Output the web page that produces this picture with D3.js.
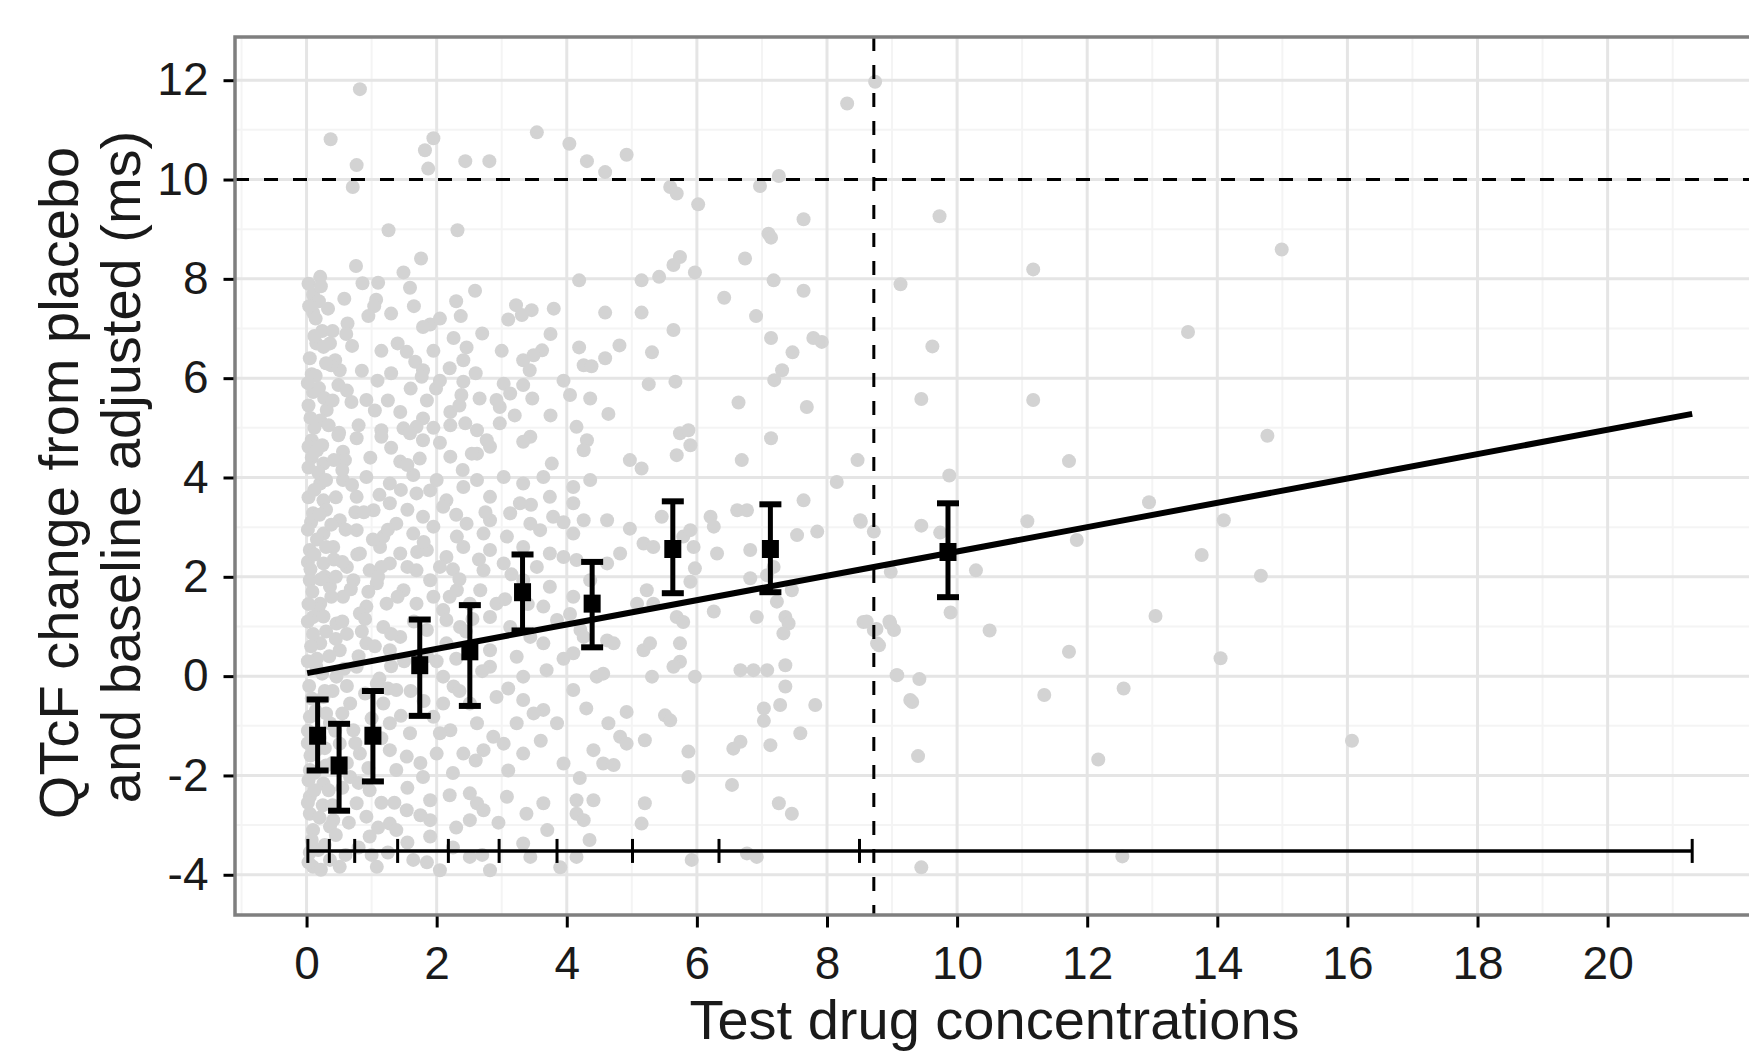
<!DOCTYPE html>
<html>
<head>
<meta charset="utf-8">
<title>QTcF change vs test drug concentration</title>
<script src="https://d3js.org/d3.v7.min.js"></script>
<style>
body { margin: 0; background: #fff; }
svg text { font-family: "Liberation Sans", Arial, sans-serif; fill: #1a1a1a; }
</style>
</head>
<body>
<div id="chart"></div>
<script>
  // observed QTcF changes, [concentration, ms]
  var obsPoints = [
    [0.82,11.82],[0.37,10.81],[0.77,10.29],[0.71,9.85],[1.82,10.59],[1.95,10.83],[1.87,10.22],[2.44,10.37],[2.81,10.37],[3.54,10.95],
    [4.04,10.72],[4.31,10.37],[1.26,8.98],[2.32,8.98],[0.76,8.26],[1.76,8.41],[0.21,8.04],[1.49,8.13],[1.59,7.82],[0.86,7.91],
    [1.10,7.92],[1.07,7.58],[1.04,7.45],[0.10,7.68],[0.10,7.32],[2.59,7.76],[2.37,7.25],[3.22,7.47],[3.46,7.37],[3.10,7.18],
    [3.31,7.27],[4.19,7.97],[0.63,7.10],[0.61,6.89],[1.90,7.08],[1.79,7.03],[2.26,6.81],[2.46,6.62],[2.41,6.36],[3.75,6.89],
    [3.62,6.56],[3.49,6.46],[3.33,6.36],[3.43,6.16],[4.19,6.62],[4.26,6.26],[4.38,6.24],[0.15,6.70],[0.36,6.70],[0.26,6.63],
    [1.54,6.53],[1.67,6.33],[1.79,6.16],[1.77,6.03],[0.44,6.36],[0.51,6.16],[0.38,6.26],[0.08,6.08],[1.09,5.95],[0.49,5.86],
    [1.60,5.79],[1.99,5.79],[2.41,5.93],[2.38,5.66],[2.66,5.59],[3.03,5.89],[3.13,5.69],[2.97,5.42],[2.92,5.56],[3.33,5.86],
    [3.47,5.59],[4.05,5.66],[4.36,5.59],[0.10,5.72],[0.69,5.52],[0.92,5.56],[0.31,5.36],[0.21,5.15],[1.44,5.32],[1.79,5.19],
    [1.69,5.02],[1.49,4.99],[1.59,4.89],[2.21,5.32],[2.21,5.05],[2.44,5.09],[2.62,4.95],[2.77,4.75],[2.82,4.62],[2.62,4.48],
    [2.97,5.09],[3.44,4.82],[3.33,4.72],[4.15,5.02],[4.31,4.75],[4.26,4.55],[0.08,4.75],[0.03,4.62],[0.49,4.85],[0.77,4.79],
    [1.15,4.95],[1.15,4.82],[1.79,4.75],[0.56,4.52],[0.59,4.35],[0.26,4.28],[1.44,4.32],[1.74,4.38],[2.21,4.42],[2.54,4.48],
    [3.77,4.28],
    [8.74,11.97],[8.31,11.53],[4.92,10.50],[4.59,10.15],[7.26,10.07],[6.97,9.87],[5.59,9.85],[5.69,9.72],[6.02,9.50],[7.64,9.20],
    [7.10,8.91],[7.14,8.83],[6.74,8.41],[5.74,8.44],[5.64,8.28],[5.97,8.13],[5.15,7.97],[5.42,8.04],[7.18,7.97],[6.42,7.62],
    [7.64,7.76],[9.13,7.89],[4.59,7.32],[5.15,7.32],[6.91,7.25],[5.64,6.97],[7.14,6.81],[7.79,6.81],[7.92,6.73],[4.81,6.66],
    [5.31,6.52],[7.47,6.52],[4.59,6.40],[7.31,6.16],[7.19,5.96],[5.26,5.88],[5.67,5.93],[6.64,5.51],[7.69,5.42],[4.64,5.28],
    [5.74,4.89],[5.87,4.95],[5.90,4.65],[5.69,4.45],[7.14,4.79],[4.97,4.35],[6.69,4.35],[8.47,4.35],[5.15,4.18],
    [0.21,3.88],[0.56,3.95],[0.92,4.01],[1.28,3.88],[1.64,4.05],[1.90,3.74],[2.41,3.81],[2.62,3.95],[3.03,4.01],[3.33,3.88],
    [3.64,4.01],[4.10,3.81],[4.36,3.95],[0.26,3.54],[0.77,3.61],[1.28,3.48],[1.69,3.68],[2.15,3.54],[2.82,3.61],[3.28,3.48],
    [3.74,3.61],[4.10,3.48],[0.10,3.28],[0.51,3.14],[1.03,3.34],[1.38,3.07],[1.79,3.21],[2.10,3.41],[2.46,3.07],[2.82,3.14],
    [3.13,3.28],[3.44,3.07],[3.79,3.21],[4.26,3.14],[0.26,2.87],[0.77,2.94],[1.18,2.81],[1.64,2.87],[1.95,3.01],[2.31,2.81],
    [2.72,2.87],[3.08,2.81],[3.59,2.94],[4.10,2.87],[0.05,2.54],[0.41,2.60],[0.82,2.47],[1.13,2.60],[1.44,2.47],[1.85,2.54],
    [2.15,2.40],[2.41,2.60],[2.82,2.54],[3.33,2.60],[3.74,2.47],[4.15,2.34],[0.26,2.27],[0.62,2.20],[0.97,2.13],[1.28,2.27],
    [1.69,2.13],[2.05,2.20],[2.72,2.13],[3.03,2.27],[3.54,2.20],[0.05,1.93],[0.36,1.80],[0.72,1.93],[1.08,1.87],[1.49,1.73],
    [1.90,1.93],[2.31,1.73],[2.67,1.73],[2.92,1.46],[3.33,1.93],[3.74,1.80],[4.10,1.60],[0.21,1.46],[0.56,1.60],[0.92,1.40],
    [1.23,1.46],[1.69,1.46],[2.10,1.33],[2.51,1.46],[3.64,1.40],[4.36,1.93],[0.10,1.19],[0.46,1.06],[0.82,1.26],[1.18,0.99],
    [1.44,0.79],[1.85,0.93],[2.15,1.13],[2.36,0.99],[2.82,1.19],[3.13,0.99],[3.44,0.79],[3.85,1.13],[4.21,0.93],[0.21,0.66],
    [0.51,0.52],[0.92,0.66],[1.28,0.52],[2.15,0.66],[2.82,0.52],[3.23,0.39],[3.64,0.66],[4.10,0.46],[4.26,0.79],[0.15,0.19],
    [0.46,-0.01],[0.77,0.19],[1.08,-0.15],[1.38,-0.28],[2.10,-0.01],[2.26,-0.21],[2.82,0.19],[2.92,-0.42],[3.33,-0.01],[3.69,0.12],
    [4.10,-0.28],[4.46,-0.01],[0.26,-0.42],[0.67,-0.55],[1.18,-0.55],[2.10,-0.55],[2.51,-0.55],[3.33,-0.48],[3.64,-0.68],[0.05,-0.82],
    [0.36,-0.95],[0.72,-1.09],[1.28,-0.95],[1.59,-1.15],[1.95,-0.82],[2.21,-1.09],[2.62,-0.95],[2.87,-1.22],[3.23,-0.95],[3.49,-0.75],
    [3.85,-0.95],[4.41,-1.49],[0.15,-1.49],[0.51,-1.36],[0.82,-1.56],[1.28,-1.49],[1.54,-1.62],[2.00,-1.56],[2.41,-1.56],[2.72,-1.49],
    [3.03,-1.36],[3.33,-1.56],[3.95,-1.76],[0.05,-1.89],[0.26,-2.16],[0.67,-2.03],[0.97,-2.30],[1.38,-1.89],[1.79,-2.03],[2.51,-2.36],
    [2.62,-2.56],[3.08,-2.43],[3.64,-2.56],[4.15,-2.50],[4.41,-2.50],[0.05,-2.43],[0.77,-2.56],[1.90,-2.50],[0.05,-2.77],[0.41,-2.90],
    [0.92,-2.83],[1.28,-2.97],[1.54,-2.70],[1.90,-2.90],[2.51,-2.90],[2.72,-2.70],[3.38,-2.77],[4.15,-2.77],[4.26,-2.90],[0.10,-3.10],
    [0.36,-3.03],[0.97,-3.23],[1.38,-3.10],[1.64,-3.70],[1.90,-3.23],[2.51,-3.64],[3.33,-3.37],[3.44,-3.64],[4.15,-3.64],[0.10,-3.84],
    [0.51,-3.84],[1.08,-3.84],[2.05,-3.91],[2.82,-3.91],
    [0.03,-3.75],[0.18,-3.50],[0.08,-3.30],[0.25,-2.60],[0.12,-2.30],[0.03,-2.10],[0.30,-1.80],[0.06,-1.60],[0.20,-1.25],[0.02,-1.10],
    [0.14,-0.70],[0.28,-0.30],[0.04,-0.20],[0.16,0.35],[0.07,0.60],[0.30,0.90],[0.02,1.10],[0.18,1.35],[0.09,1.70],[0.28,2.00],
    [0.02,2.30],[0.16,2.75],[0.07,3.10],[0.30,3.35],[0.03,3.60],[0.18,4.10],[0.08,4.40],[0.24,4.65],[0.12,5.00],[0.03,5.45],
    [0.19,5.80],[0.05,6.40],[0.24,6.95],[0.14,7.20],[0.03,7.90],[0.19,7.55],[0.45,2.00],[0.55,1.10],[0.62,-0.20],[0.40,-2.60],
    [0.75,3.30],[0.85,0.90],[0.50,4.90],[0.95,1.70],[1.15,2.20],[1.30,0.20],[1.60,-0.30],[1.70,2.50],[2.00,0.30],[2.20,1.60],
    [0.04,7.45],[0.22,7.85],[0.33,7.40],[0.12,6.85],[0.40,6.95],[0.30,6.30],[0.14,6.05],[0.02,5.90],[0.27,5.60],[0.40,5.55],
    [0.06,5.20],[0.34,5.05],[0.16,4.55],[0.42,4.35],[0.03,4.20],[0.30,3.95],[0.12,3.75],[0.45,3.60],[0.20,3.25],[0.38,3.05],
    [0.02,2.95],[0.30,2.60],[0.12,2.45],[0.42,2.35],[0.06,2.15],[0.22,1.95],[0.38,1.60],[0.03,1.45],[0.26,1.20],[0.45,0.75],
    [0.10,0.85],[0.35,0.40],[0.02,0.30],[0.24,0.05],[0.40,-0.30],[0.08,-0.45],[0.30,-0.75],[0.44,-1.10],[0.02,-1.35],[0.28,-1.45],
    [0.40,-1.75],[0.12,-1.95],[0.34,-2.30],[0.02,-2.55],[0.20,-2.85],[0.45,-3.20],[0.28,-3.40],[0.05,-3.55],[0.36,-3.70],[0.22,-3.90],
    [0.58,7.60],[0.95,7.25],[0.70,6.65],[1.15,6.55],[0.85,6.15],[0.62,5.75],[1.05,5.35],[0.80,5.05],[0.55,4.15],[0.98,4.40],
    [0.70,3.85],[1.12,3.65],[0.88,3.30],[0.60,2.95],[1.02,2.75],[0.78,2.45],[0.55,2.30],[1.10,2.00],[0.68,1.75],[0.90,1.15],
    [0.62,0.85],[1.05,0.60],[0.80,0.40],[0.58,0.15],[1.12,-0.05],[0.90,-0.35],[0.55,-0.75],[1.00,-0.85],[0.75,-1.35],[1.15,-1.25],
    [0.62,-1.75],[0.95,-1.85],[0.55,-2.25],[0.80,-2.15],[1.15,-2.55],[0.65,-2.95],[1.10,-3.05],[0.80,-3.45],[0.60,-3.60],[1.00,-3.60],
    [1.30,7.30],[1.65,7.45],[2.05,7.20],[2.30,7.55],[1.40,6.70],[1.95,6.55],[2.20,6.20],[1.30,6.10],[2.05,5.95],[1.85,5.55],
    [1.25,5.55],[2.35,5.45],[1.95,5.00],[1.30,4.60],[2.05,4.70],[1.55,4.25],[2.40,4.15],[1.45,3.75],[2.00,3.95],[2.30,3.25],
    [1.55,3.35],[1.25,2.95],[1.80,2.70],[2.25,2.15],[1.55,2.20],[1.40,1.60],[1.95,1.60],[2.35,1.95],[1.65,1.10],[2.45,0.90],
    [1.30,0.85],[1.85,0.40],[2.30,0.35],[1.50,0.30],[1.25,-0.25],[1.80,-0.50],[2.35,-0.30],[1.45,-0.80],[2.05,-1.15],[1.75,-1.75],
    [2.25,-1.95],[1.55,-2.25],[2.20,-2.40],[1.35,-2.55],[1.75,-2.80],[2.30,-3.05],[1.55,-3.35],[2.25,-3.45],[1.25,-3.55],[1.85,-3.75],
    [2.70,6.90],[3.00,6.55],[3.80,7.40],[2.60,6.10],[3.95,5.95],[3.20,5.25],[3.75,5.25],[2.75,3.30],[3.45,3.45],[3.95,3.10],
    [2.65,2.35],[3.15,2.05],[3.95,2.40],[2.55,1.15],[3.05,1.55],[3.40,1.45],[4.05,1.25],[2.70,0.10],[3.10,-0.25],[3.95,0.35],
    [4.30,-0.65],[2.60,-1.70],[3.10,-1.90],[3.60,-1.30],[4.20,-2.05],[2.95,-2.95],[3.70,-3.10],[4.35,-3.30],[2.70,-3.60],[3.90,-3.85],
    [4.62,3.14],[4.97,2.97],[5.46,3.21],[5.18,2.67],[5.33,2.60],[5.79,2.81],[5.95,2.60],[5.90,2.94],[6.21,3.21],[6.26,3.01],
    [6.31,2.47],[6.62,3.34],[6.77,3.34],[6.82,2.54],[7.18,2.20],[7.54,2.84],[7.85,2.91],[7.64,3.54],[8.15,3.91],[8.51,3.14],
    [8.72,2.91],[4.62,2.27],[4.82,2.47],[6.82,1.97],[7.08,2.03],[7.46,1.73],[5.90,1.90],[5.97,2.17],[5.08,1.46],[5.23,1.73],
    [5.33,1.46],[5.69,1.19],[5.79,1.09],[6.26,1.30],[6.92,1.19],[7.23,1.50],[7.36,1.19],[7.41,1.06],[7.33,0.86],[8.56,1.09],
    [8.72,0.93],[8.97,1.06],[9.03,0.93],[8.77,0.66],[4.62,0.72],[4.72,0.66],[5.18,0.52],[5.28,0.66],[5.74,0.66],[5.74,0.29],
    [5.64,0.19],[4.56,0.05],[5.31,-0.01],[5.97,-0.01],[6.67,0.12],[6.87,0.12],[7.08,0.12],[7.36,0.22],[7.36,-0.21],[9.08,0.02],
    [7.28,-0.58],[7.82,-0.58],[7.03,-0.65],[7.03,-0.90],[4.92,-0.72],[5.51,-0.79],[5.59,-0.89],[4.64,-0.95],[4.82,-1.22],[4.92,-1.36],
    [5.20,-1.29],[5.87,-1.52],[6.67,-1.32],[6.56,-1.46],[7.13,-1.39],[7.59,-1.15],[4.56,-1.76],[4.72,-1.79],[5.87,-2.03],[6.54,-2.19],
    [5.20,-2.56],[5.15,-2.97],[7.26,-2.56],[7.46,-2.77],[5.92,-3.70],[6.77,-3.57],[6.92,-3.64],[9.28,-0.48],
    [9.73,9.26],[9.62,6.64],[9.45,5.58],[9.88,4.04],[9.45,3.03],[9.07,0.02],[9.31,-0.52],[9.40,-1.61],[9.45,-3.85],[9.90,1.28],
    [10.29,2.13],[10.50,0.92],[11.17,8.19],[11.17,5.56],[11.08,3.12],[11.34,-0.38],[11.72,4.33],[11.84,2.74],[11.72,0.49],[12.17,-1.68],
    [12.56,-0.25],[12.54,-3.63],[13.05,1.21],[12.95,3.50],[13.55,6.93],[13.76,2.44],[14.10,3.14],[14.05,0.36],[14.67,2.02],[14.77,4.84],
    [14.99,8.59],[16.07,-1.30],[8.52,3.11],[9.74,2.89],[8.61,1.10],[8.96,1.10],[8.76,0.95],[8.80,0.62],[9.42,-0.06],[8.98,2.10]
  ];

  // concentration bins (deciles): edges, centres, mean and 90% CI
  var binEdges = [0.02, 0.35, 0.74, 1.40, 2.18, 2.96, 3.85, 5.01, 6.34, 8.50, 21.30];
  var binX = [0.17, 0.50, 1.02, 1.74, 2.51, 3.32, 4.39, 5.63, 7.13, 9.86];
  var binMean = [-1.20, -1.80, -1.20, 0.22, 0.50, 1.69, 1.46, 2.56, 2.56, 2.50];
  var binLow = [-1.90, -2.71, -2.12, -0.80, -0.60, 0.92, 0.58, 1.67, 1.69, 1.59];
  var binHigh = [-0.47, -0.96, -0.30, 1.14, 1.43, 2.45, 2.30, 3.52, 3.46, 3.48];
  var binBarY = -3.52;

  // model prediction line
  var fitX = [0.01, 4, 8, 12, 16, 21.3];
  var fitY = [0.06, 1.04, 2.02, 3.00, 3.98, 5.28];

  // reference lines
  var refY = 10;
  var refX = 8.72;

  var xTicks = [0, 2, 4, 6, 8, 10, 12, 14, 16, 18, 20];
  var yTicks = [-4, -2, 0, 2, 4, 6, 8, 10, 12];
  var xMinor = [-1, 1, 3, 5, 7, 9, 11, 13, 15, 17, 19, 21];
  var yMinor = [-3, -1, 1, 3, 5, 7, 9, 11];

  var W = 1749, H = 1052;
  var pLeft = 235, pRight = 1754, pTop = 37, pBottom = 915;

  var svg = d3.select("#chart").append("svg")
    .attr("width", W)
    .attr("height", H);

  svg.append("rect").attr("width", W).attr("height", H).attr("fill", "#fff");

  var x = d3.scaleLinear().domain([-1.1, 22.25]).range([pLeft, pRight]);
  var y = d3.scaleLinear().domain([-4.81, 12.87]).range([pBottom, pTop]);

  svg.append("clipPath").attr("id", "panel")
    .append("rect")
    .attr("x", pLeft).attr("y", pTop)
    .attr("width", pRight - pLeft).attr("height", pBottom - pTop);

  var g = svg.append("g").attr("clip-path", "url(#panel)");

  // grid
  g.selectAll(".vminor").data(xMinor).enter().append("line")
    .attr("x1", function(d) { return x(d); }).attr("x2", function(d) { return x(d); })
    .attr("y1", pTop).attr("y2", pBottom)
    .attr("stroke", "#f4f4f4").attr("stroke-width", 2);
  g.selectAll(".hminor").data(yMinor).enter().append("line")
    .attr("y1", function(d) { return y(d); }).attr("y2", function(d) { return y(d); })
    .attr("x1", pLeft).attr("x2", pRight)
    .attr("stroke", "#f4f4f4").attr("stroke-width", 2);
  g.selectAll(".vmajor").data(xTicks).enter().append("line")
    .attr("x1", function(d) { return x(d); }).attr("x2", function(d) { return x(d); })
    .attr("y1", pTop).attr("y2", pBottom)
    .attr("stroke", "#e5e5e5").attr("stroke-width", 3);
  g.selectAll(".hmajor").data(yTicks).enter().append("line")
    .attr("y1", function(d) { return y(d); }).attr("y2", function(d) { return y(d); })
    .attr("x1", pLeft).attr("x2", pRight)
    .attr("stroke", "#e5e5e5").attr("stroke-width", 3);

  // observations
  g.selectAll(".obs").data(obsPoints).enter().append("circle")
    .attr("cx", function(d) { return x(d[0]); })
    .attr("cy", function(d) { return y(d[1]); })
    .attr("r", 7)
    .attr("fill", "#d3d3d3");

  // reference lines
  g.append("line")
    .attr("x1", pLeft).attr("x2", pRight)
    .attr("y1", y(refY)).attr("y2", y(refY))
    .attr("stroke", "#000").attr("stroke-width", 3)
    .attr("stroke-dasharray", "14,15");
  g.append("line")
    .attr("x1", x(refX)).attr("x2", x(refX))
    .attr("y1", pTop).attr("y2", pBottom)
    .attr("stroke", "#000").attr("stroke-width", 3)
    .attr("stroke-dasharray", "14,14");

  // bin bar along the bottom
  g.append("line")
    .attr("x1", x(binEdges[0])).attr("x2", x(binEdges[binEdges.length - 1]))
    .attr("y1", y(binBarY)).attr("y2", y(binBarY))
    .attr("stroke", "#000").attr("stroke-width", 3.5);
  g.selectAll(".edge").data(binEdges).enter().append("line")
    .attr("x1", function(d) { return x(d); }).attr("x2", function(d) { return x(d); })
    .attr("y1", y(binBarY) - 12).attr("y2", y(binBarY) + 12)
    .attr("stroke", "#000").attr("stroke-width", 3);

  // fitted line
  var fit = fitX.map(function(d, i) { return [d, fitY[i]]; });
  g.append("path")
    .datum(fit)
    .attr("fill", "none")
    .attr("stroke", "#000")
    .attr("stroke-width", 6)
    .attr("d", d3.line().x(function(d) { return x(d[0]); }).y(function(d) { return y(d[1]); }));

  // binned means with error bars
  var bins = binX.map(function(d, i) {
    return { x: d, mean: binMean[i], lo: binLow[i], hi: binHigh[i] };
  });
  var eb = g.selectAll(".eb").data(bins).enter().append("g");
  eb.append("line")
    .attr("x1", function(d) { return x(d.x); }).attr("x2", function(d) { return x(d.x); })
    .attr("y1", function(d) { return y(d.lo); }).attr("y2", function(d) { return y(d.hi); })
    .attr("stroke", "#000").attr("stroke-width", 5);
  eb.append("line")
    .attr("x1", function(d) { return x(d.x) - 11; }).attr("x2", function(d) { return x(d.x) + 11; })
    .attr("y1", function(d) { return y(d.lo); }).attr("y2", function(d) { return y(d.lo); })
    .attr("stroke", "#000").attr("stroke-width", 6);
  eb.append("line")
    .attr("x1", function(d) { return x(d.x) - 11; }).attr("x2", function(d) { return x(d.x) + 11; })
    .attr("y1", function(d) { return y(d.hi); }).attr("y2", function(d) { return y(d.hi); })
    .attr("stroke", "#000").attr("stroke-width", 6);
  eb.append("rect")
    .attr("x", function(d) { return x(d.x) - 8.5; })
    .attr("y", function(d) { return y(d.mean) - 9; })
    .attr("width", 17).attr("height", 18)
    .attr("fill", "#000");

  // panel border
  svg.append("rect")
    .attr("x", pLeft).attr("y", pTop)
    .attr("width", pRight - pLeft).attr("height", pBottom - pTop)
    .attr("fill", "none").attr("stroke", "#7f7f7f").attr("stroke-width", 3.5);

  // axes (plain hyphen for negatives, as in the original)
  var plain = function(d) { return String(d); };
  var xAxis = svg.append("g")
    .attr("transform", "translate(0," + (pBottom + 1.5) + ")")
    .call(d3.axisBottom(x).tickValues(xTicks).tickFormat(plain).tickSize(11).tickPadding(19));
  var yAxis = svg.append("g")
    .attr("transform", "translate(" + (pLeft - 1.5) + ",0)")
    .call(d3.axisLeft(y).tickValues(yTicks).tickFormat(plain).tickSize(10).tickPadding(15));

  [xAxis, yAxis].forEach(function(a) {
    a.select(".domain").remove();
    a.attr("font-size", 46).attr("font-family", "Liberation Sans, Arial, sans-serif");
    a.selectAll(".tick line").attr("stroke", "#000").attr("stroke-width", 3);
    a.selectAll(".tick text").attr("fill", "#1a1a1a");
  });

  // titles
  svg.append("text")
    .attr("x", (pLeft + pRight) / 2)
    .attr("y", 1039)
    .attr("text-anchor", "middle")
    .attr("font-size", 56)
    .text("Test drug concentrations");

  svg.append("text")
    .attr("transform", "translate(78,483) rotate(-90)")
    .attr("text-anchor", "middle")
    .attr("font-size", 56)
    .text("QTcF change from placebo");
  svg.append("text")
    .attr("transform", "translate(140,467) rotate(-90)")
    .attr("text-anchor", "middle")
    .attr("font-size", 56)
    .text("and baseline adjusted (ms)");
</script>
</body>
</html>
